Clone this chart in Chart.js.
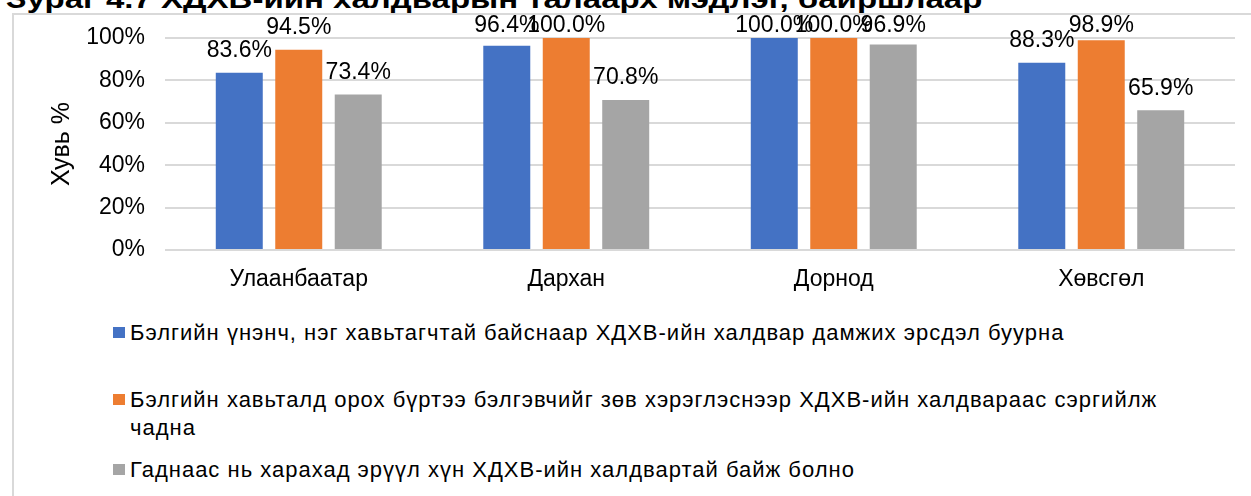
<!DOCTYPE html>
<html lang="mn">
<head>
    <meta charset="UTF-8">
    <title>ХДХВ-ийн халдварын талаарх мэдлэг</title>
    <script src="https://cdn.jsdelivr.net/npm/chart.js"></script>
    <style>
        body {
            margin: 0;
            width: 1251px;
            height: 496px;
            overflow: hidden;
            background: #fff;
            font-family: "Liberation Sans", Arial, sans-serif;
            position: relative;
        }
        .fig-title {
            position: absolute;
            left: 6px;
            top: -15px;
            font-size: 25px;
            font-weight: bold;
            color: #000;
            white-space: nowrap;
            transform: scaleX(1.32);
            transform-origin: left top;
        }
        .frame {
            position: absolute;
            left: 12px;
            top: 13px;
            width: 1300px;
            height: 520px;
            border: 2px solid #d9d9d9;
        }
        .chart-box {
            position: absolute;
            left: 0;
            top: 0;
            width: 1251px;
            height: 300px;
        }
        #legend {
            position: absolute;
            left: 113px;
            top: 319px;
            width: 1110px;
            font-size: 22px;
            letter-spacing: 1px;
            color: #000;
        }
        #legend .item {
            display: flex;
            align-items: flex-start;
            line-height: 28px;
        }
        #legend .box {
            flex: none;
            width: 12px;
            height: 11px;
            margin: 8px 5px 0 0;
        }
        #legend .txt {
            width: 1080px;
        }
    </style>
</head>
<body>
    <div class="fig-title">Зураг 4.7 ХДХВ-ийн халдварын талаарх мэдлэг, байршлаар</div>
    <div class="frame"></div>
    <div class="chart-box"><canvas id="knowChart"></canvas></div>
    <div id="legend"></div>

    <script>
        const categories = ['Улаанбаатар', 'Дархан', 'Дорнод', 'Хөвсгөл'];
        const seriesNames = [
            'Бэлгийн үнэнч, нэг хавьтагчтай байснаар ХДХВ-ийн халдвар дамжих эрсдэл буурна',
            'Бэлгийн хавьталд орох бүртээ бэлгэвчийг зөв хэрэглэснээр ХДХВ-ийн халдвараас сэргийлж чадна',
            'Гаднаас нь харахад эрүүл хүн ХДХВ-ийн халдвартай байж болно'
        ];
        const faithfulValues = [83.6, 96.4, 100.0, 88.3];
        const condomValues = [94.5, 100.0, 100.0, 98.9];
        const healthyLookingValues = [73.4, 70.8, 96.9, 65.9];
        const seriesColors = ['#4472c4', '#ed7d31', '#a5a5a5'];
        const yTicks = [0, 20, 40, 60, 80, 100];

        const FONT = "'Liberation Sans', Arial, sans-serif";

        // value labels above each bar, Excel style
        const barLabels = {
            id: 'barLabels',
            afterDatasetsDraw(chart) {
                const c = chart.ctx;
                c.save();
                c.font = '23px ' + FONT;
                c.fillStyle = '#000';
                c.textAlign = 'center';
                c.textBaseline = 'middle';
                chart.data.datasets.forEach((ds, i) => {
                    chart.getDatasetMeta(i).data.forEach((bar, j) => {
                        const y = Math.max(bar.y - 22, 26);
                        c.fillText(ds.data[j].toFixed(1) + '%', bar.x, y);
                    });
                });
                c.restore();
            }
        };

        const chart = new Chart(document.getElementById('knowChart'), {
            type: 'bar',
            data: {
                labels: categories,
                datasets: [faithfulValues, condomValues, healthyLookingValues].map((vals, i) => ({
                    label: seriesNames[i],
                    data: vals,
                    backgroundColor: seriesColors[i],
                    categoryPercentage: 0.667,
                    barPercentage: 0.79
                }))
            },
            options: {
                responsive: true,
                maintainAspectRatio: false,
                animation: false,
                layout: { padding: { left: 0, right: 16, top: 38, bottom: 0 } },
                plugins: {
                    legend: { display: false },
                    tooltip: { enabled: false }
                },
                scales: {
                    x: {
                        grid: { display: false, drawTicks: false },
                        border: { display: false },
                        ticks: { color: '#000', font: { family: FONT, size: 23 }, padding: 16 },
                        afterFit(scale) { scale.height = 50; }
                    },
                    y: {
                        min: 0,
                        max: 100,
                        afterBuildTicks(scale) { scale.ticks = yTicks.map(v => ({ value: v })); },
                        grid: { color: '#d9d9d9', lineWidth: 2, drawTicks: false },
                        border: { display: false },
                        ticks: {
                            color: '#000',
                            font: { family: FONT, size: 23 },
                            padding: 20,
                            callback: v => v + '%'
                        },
                        title: {
                            display: true,
                            text: 'Хувь %',
                            color: '#000',
                            font: { family: FONT, size: 25 },
                            padding: { top: 47, bottom: 0 }
                        },
                        afterFit(scale) { scale.width = 165; }
                    }
                }
            },
            plugins: [barLabels]
        });

        // legend from the chart's own datasets
        const legendEl = document.getElementById('legend');
        const gaps = [0, 39, 14];
        chart.data.datasets.forEach((ds, i) => {
            const row = document.createElement('div');
            row.className = 'item';
            row.style.marginTop = gaps[i] + 'px';
            row.innerHTML = '<span class="box" style="background:' + ds.backgroundColor + '"></span><span class="txt"></span>';
            row.querySelector('.txt').textContent = ds.label;
            legendEl.appendChild(row);
        });
    </script>
</body>
</html>
